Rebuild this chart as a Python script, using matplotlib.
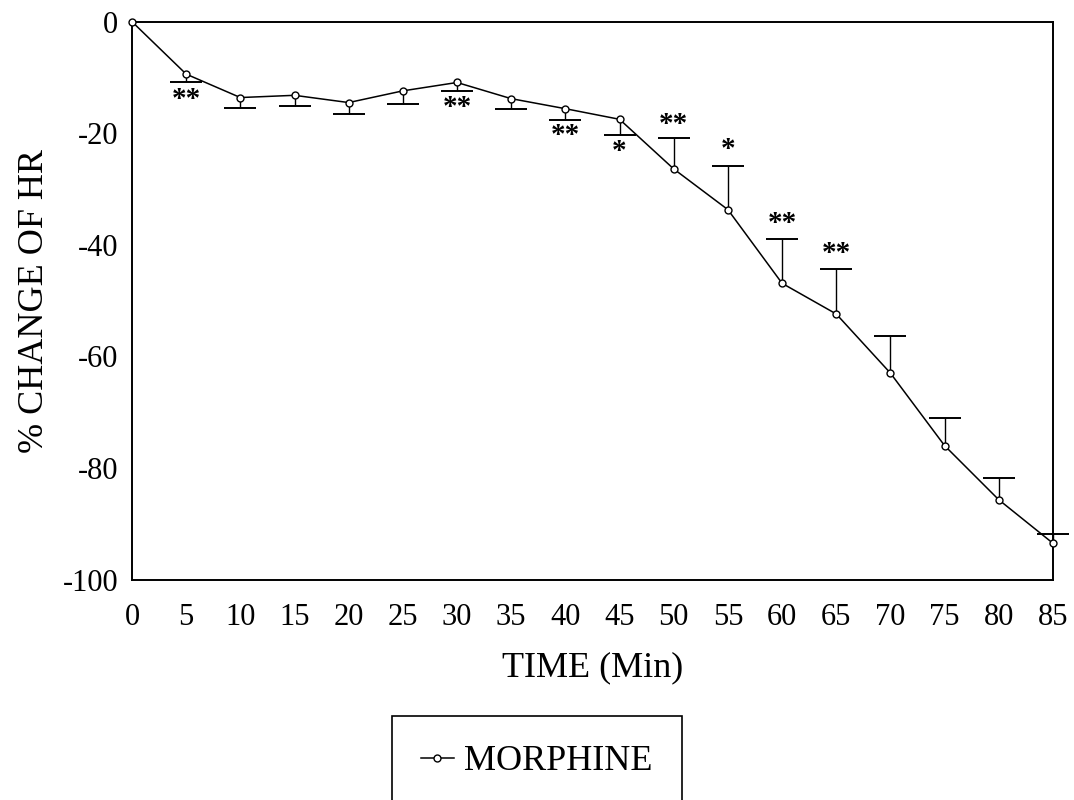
import matplotlib
matplotlib.use("Agg")
import matplotlib.pyplot as plt
import numpy as np

# data
time_min = [0, 5, 10, 15, 20, 25, 30, 35, 40, 45, 50, 55, 60, 65, 70, 75, 80, 85]
hr_change = [0, -9.4, -13.6, -13.2, -14.5, -12.4, -10.9, -13.8, -15.6, -17.5,
             -26.4, -33.7, -46.9, -52.4, -63.0, -76.0, -85.7, -93.5]
hr_sem = [0, 1.5, 1.9, 2.0, 2.0, 2.3, 1.6, 1.8, 2.0, 2.9,
          5.6, 7.9, 8.0, 8.0, 6.7, 4.9, 3.9, 1.7]
# bars point down up to 45 min, up afterwards
bar_down = [True] * 10 + [False] * 8

# significance marks: (time, label, y position)
sig_time = [5, 30, 40, 45, 50, 55, 60, 65]
sig_label = ["**", "**", "**", "*", "**", "*", "**", "**"]
sig_y = [-13.9, -15.4, -20.4, -23.2, -18.4, -23.0, -36.2, -41.6]

xticks = list(range(0, 90, 5))
yticks = [0, -20, -40, -60, -80, -100]

plt.rcParams["font.family"] = ["Liberation Serif", "DejaVu Serif"]
plt.rcParams["axes.unicode_minus"] = False

fig = plt.figure(figsize=(10.74, 8.0), dpi=100)
ax = fig.add_axes([0.1229, 0.2756, 0.8575, 0.6973])

# one-sided SEM bars: stem from the mean to the bar end, single cap there
t = np.array(time_min[1:])
m = np.array(hr_change[1:])
s = np.array(hr_sem[1:])
end = np.where(np.array(bar_down[1:]), m - s, m + s)
ax.vlines(t, m, end, color="black", lw=1.0, clip_on=False, zorder=2)
ax.plot(t, end, ls="none", marker="_", ms=23, mew=1.4, color="black",
        clip_on=False, zorder=2)

ax.plot(time_min, hr_change, "-o", color="black", lw=1.1, ms=5,
        mfc="white", mec="black", mew=1.0, clip_on=False, zorder=3,
        label="MORPHINE")

for tt, lab, y in zip(sig_time, sig_label, sig_y):
    ax.text(tt, y, lab, ha="center", va="center", fontsize=21, fontweight="bold")

ax.set_xlim(0, 85)
ax.set_ylim(-100, 0)
ax.set_xticks(xticks)
ax.set_yticks(yticks)
ax.tick_params(length=0, labelsize=22)
ax.tick_params(axis="x", pad=17)
ax.tick_params(axis="y", pad=10)
for sp in ax.spines.values():
    sp.set_linewidth(1.4)

ax.set_xlabel("TIME (Min)", fontsize=26, va="top")
ax.xaxis.set_label_coords(0.5, -0.128)
ax.set_ylabel("% CHANGE OF HR", fontsize=26)
ax.yaxis.set_label_coords(-0.088, 0.5)

leg = ax.legend(loc="center", bbox_to_anchor=(0.5, 0.048),
                bbox_transform=fig.transFigure, fontsize=26, fancybox=False,
                framealpha=1, edgecolor="black", borderpad=0.8,
                handlelength=0.9, handletextpad=0.3)
leg.get_frame().set_linewidth(1.2)

fig.savefig("out.png", dpi=100)
